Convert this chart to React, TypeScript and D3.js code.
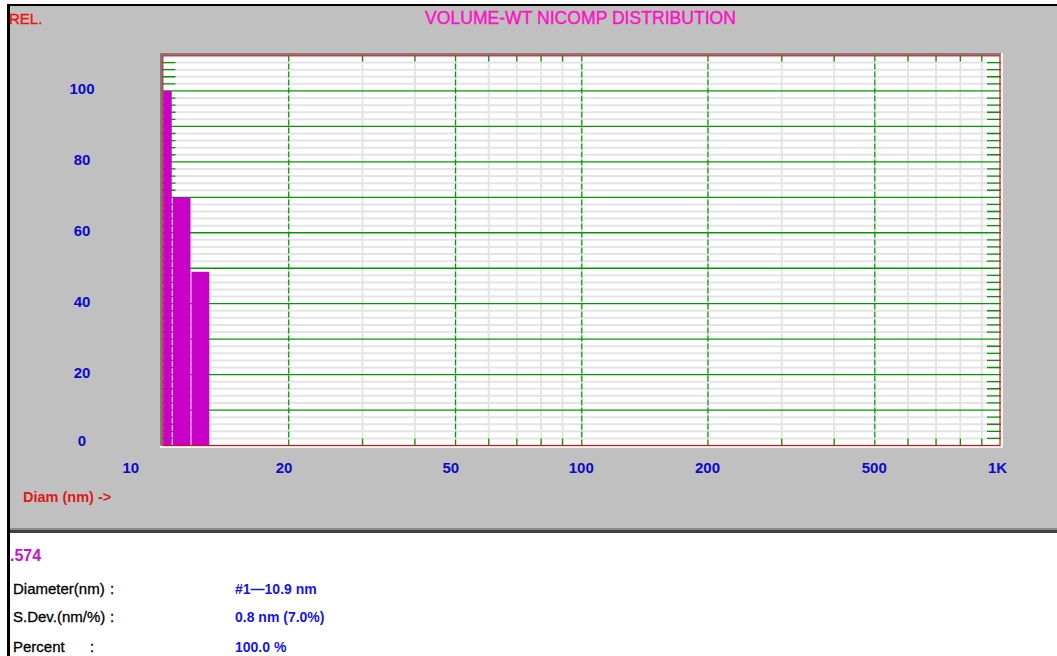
import React from 'react';
import * as d3 from 'd3';

// ---- data ----
const binLow = [9.5, 10.52, 11.66];
const binHigh = [10.52, 11.66, 12.93];
const volumePct = [100, 70, 49];

const yTicks = [0, 20, 40, 60, 80, 100];
const xTickValues = [10, 20, 50, 100, 200, 500, 1000];
const xTickLabels = ['10', '20', '50', '100', '200', '500', '1K'];
const xMajorGrid = [20, 50, 100, 200, 500];
const xMinorGrid = [30, 40, 60, 70, 80, 90, 300, 400, 600, 700, 800, 900];

const chartTitle = 'VOLUME-WT NICOMP DISTRIBUTION';
const yAxisTitle = 'REL.';
const xAxisTitle = 'Diam (nm) ->';
const fitValue = '.574';
const statLabels = ['Diameter(nm)', 'S.Dev.(nm/%)', 'Percent'];
const statValues = ['#1\u201410.9 nm', '0.8 nm (7.0%)', '100.0 %'];

const FONT = '"Liberation Sans", Arial, sans-serif';

export default function App() {
  const W = 1057;
  const H = 656;
  const L = 162.5;
  const R = 1001;
  const T = 55.5;
  const B = 445.5;

  const x = d3.scaleLog().domain([10, 1000]).range([L, R]);
  const y = d3.scaleLinear().domain([0, 110]).range([B, T]);

  const yMinor = d3.range(2, 110, 2).filter((v) => v % 10 !== 0);
  const yMajor = d3.range(10, 110, 10);

  const green = '#009a00';
  const lightGrey = '#e4e4e4';

  return (
    <svg
      width={W}
      height={H}
      style={{ position: 'absolute', left: 0, top: 0, display: 'block' }}
      fontFamily={FONT}
    >
      <defs>
        <clipPath id="plotClip">
          <rect x={L} y={T} width={R - L} height={B - T} />
        </clipPath>
      </defs>

      {/* window background */}
      <rect x={0} y={0} width={W} height={H} fill="#ffffff" />
      <rect x={10} y={6} width={W - 10} height={522} fill="#c0c0c0" />
      <rect x={10} y={528} width={W - 10} height={2} fill="#8c8c8c" />
      <rect x={10} y={530} width={W - 10} height={3} fill="#404040" />
      <rect x={7} y={4} width={W - 7} height={2} fill="#000000" />
      <rect x={7} y={4} width={3} height={H - 4} fill="#000000" />

      {/* sunken frame */}
      <rect x={160} y={53} width={R - 160} height={2} fill="#7c7c7c" />
      <rect x={160} y={53} width={2} height={B - 53} fill="#7c7c7c" />
      <rect x={160} y={B + 0.5} width={R - 158} height={2} fill="#f4f4f4" />
      <rect x={R} y={53} width={2} height={B - 51} fill="#f4f4f4" />

      {/* plot area */}
      <rect x={L} y={T} width={R - L} height={B - T} fill="#ffffff" />

      <g clipPath="url(#plotClip)">
        {/* minor horizontal grid */}
        {yMinor.map((v) => (
          <line key={'hm' + v} x1={L} x2={R} y1={y(v)} y2={y(v)} stroke={lightGrey} strokeWidth={2} />
        ))}
        {/* minor vertical grid */}
        {xMinorGrid.map((v) => (
          <line key={'vm' + v} x1={x(v)} x2={x(v)} y1={T} y2={B} stroke={lightGrey} strokeWidth={2} />
        ))}
        {/* major vertical grid */}
        {xMajorGrid.map((v) => (
          <g key={'vM' + v}>
            <line x1={x(v)} x2={x(v)} y1={T} y2={B} stroke={lightGrey} strokeWidth={2} />
            <line x1={x(v)} x2={x(v)} y1={T} y2={B} stroke={green} strokeWidth={1.2} strokeDasharray="6 2" />
          </g>
        ))}
        {/* major horizontal grid */}
        {yMajor.map((v) => (
          <line key={'hM' + v} x1={L} x2={R} y1={y(v)} y2={y(v)} stroke={green} strokeWidth={1.3} />
        ))}
        {/* edge ticks left/right */}
        {yMinor.map((v) => (
          <g key={'et' + v}>
            <line x1={L} x2={L + 13} y1={y(v)} y2={y(v)} stroke={green} strokeWidth={1.3} />
            <line x1={R - 14} x2={R} y1={y(v)} y2={y(v)} stroke={green} strokeWidth={1.3} />
          </g>
        ))}
        {/* edge ticks top/bottom */}
        {xMinorGrid.map((v) => (
          <g key={'tb' + v}>
            <line x1={x(v)} x2={x(v)} y1={T} y2={T + 6} stroke={green} strokeWidth={1.3} />
            <line x1={x(v)} x2={x(v)} y1={B - 7} y2={B} stroke={green} strokeWidth={1.3} />
          </g>
        ))}

        {/* bars */}
        {volumePct.map((v, i) => {
          const x0 = Math.max(x(binLow[i]) + 1, L + 0.8);
          const x1 = x(binHigh[i]);
          return (
            <rect
              key={'bar' + i}
              x={x0}
              y={y(v)}
              width={x1 - x0}
              height={B - y(v)}
              fill="#c800c8"
            />
          );
        })}
      </g>

      {/* red frame */}
      <rect
        x={L + 0.3}
        y={T + 0.3}
        width={R - L - 1.3}
        height={B - T - 0.3}
        fill="none"
        stroke="#c81414"
        strokeWidth={1.2}
      />

      {/* y tick labels */}
      {yTicks.map((v) => (
        <text
          key={'yl' + v}
          x={82}
          y={Math.min(y(v) + 3, 446)}
          textAnchor="middle"
          fontSize={15}
          fontWeight="bold"
          fill="#0a0acc"
        >
          {v}
        </text>
      ))}

      {/* x tick labels */}
      {xTickValues.map((v, i) => (
        <text
          key={'xl' + v}
          x={x(v) + (i === 0 ? -40 : -13)}
          y={473}
          fontSize={15}
          fontWeight="bold"
          fill="#0a0acc"
        >
          {xTickLabels[i]}
        </text>
      ))}

      {/* titles */}
      <text x={9} y={24} fontSize={15} fill="#f01010" stroke="#f01010" strokeWidth={0.4}>
        {yAxisTitle}
      </text>
      <text
        x={580.5}
        y={24}
        textAnchor="middle"
        fontSize={18}
        fill="#ff10c8"
        stroke="#ff10c8"
        strokeWidth={0.4}
        textLength={311}
        lengthAdjust="spacingAndGlyphs"
      >
        {chartTitle}
      </text>
      <text x={23} y={502} fontSize={14.5} fontWeight="bold" fill="#e01818">
        {xAxisTitle}
      </text>

      {/* results panel */}
      <text x={10} y={561} fontSize={16} fontWeight="bold" fill="#cc10cc">
        {fitValue}
      </text>
      {statLabels.map((s, i) => {
        const by = [594, 622, 652][i];
        return (
          <g key={'st' + i}>
            <text x={13} y={by} fontSize={15} fill="#000000" stroke="#000000" strokeWidth={0.3}>
              {s}
            </text>
            <text x={i === 2 ? 90 : 110} y={by} fontSize={15} fill="#000000" stroke="#000000" strokeWidth={0.3}>
              :
            </text>
            <text x={235} y={by} fontSize={14} fontWeight="bold" fill="#1414ee">
              {statValues[i]}
            </text>
          </g>
        );
      })}
    </svg>
  );
}
